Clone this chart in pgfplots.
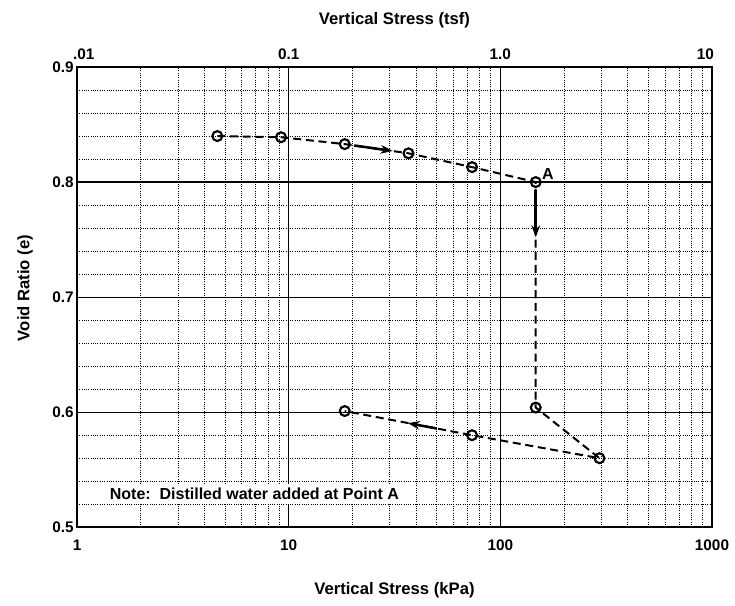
\documentclass[border=0pt]{standalone}
\usepackage{pgfplots}
\pgfplotsset{compat=1.18}
\usepackage{fontspec}
\setmainfont{Liberation Sans}
\usetikzlibrary{arrows.meta}

\begin{document}
\begin{tikzpicture}
% 1 px of the reference = 0.75pt
\begin{axis}[
    name=main,
    scale only axis,
    width=476pt, height=345pt,
    xmode=log, log basis x=10,
    xmin=1, xmax=1000,
    ymin=0.5, ymax=0.9,
    xtick={1,10,100,1000},
    xticklabels={1,10,100,1000},
    minor xtick={2,3,4,5,6,7,8,9,20,30,40,50,60,70,80,90,200,300,400,500,600,700,800,900},
    ytick={0.5,0.6,0.7,0.8,0.9},
    minor ytick={0.52,0.54,0.56,0.58,0.62,0.64,0.66,0.68,0.72,0.74,0.76,0.78,0.82,0.84,0.86,0.88},
    yticklabel style={/pgf/number format/fixed,/pgf/number format/precision=1,
        /pgf/number format/fixed zerofill, font=\fontsize{11.5}{13}\selectfont\bfseries, xshift=1pt},
    xticklabel style={font=\fontsize{11.5}{13}\selectfont\bfseries, yshift=-6pt},
    /pgf/number format/assume math mode=true,
    grid=both,
    major grid style={black, line width=0.9pt},
    minor grid style={black, line width=0.7pt, densely dotted},
    tick style={draw=none},
    axis line style={line width=1.3pt},
    xlabel={Vertical Stress (kPa)},
    ylabel={Void Ratio (e)},
    label style={font=\fontsize{12.5}{14}\selectfont\bfseries},
    xlabel style={at={(rel axis cs:0.5,-0.136)}, anchor=center},
    ylabel style={at={(rel axis cs:-0.082,0.52)}, anchor=center},
    clip=false,
]
\addplot[black, line width=1.5pt, dash pattern=on 6pt off 3.5pt,
    mark=o, mark size=3.7pt, mark options={solid, line width=1.6pt}]
coordinates {
    (4.6,0.840) (9.2,0.839) (18.4,0.833) (36.8,0.825) (73.5,0.813) (147,0.800)
    (147,0.604) (294,0.560) (73.5,0.580) (18.4,0.601)
};
\draw[black, line width=1.9pt, -{Stealth[length=9pt,width=6.5pt]}]
    (axis cs:20.4,0.8318) -- (axis cs:31.0,0.8270);
\draw[black, line width=1.9pt, -{Stealth[length=9pt,width=6.5pt]}]
    (axis cs:147,0.793) -- (axis cs:147,0.752);
\draw[black, line width=1.9pt, -{Stealth[length=9pt,width=6.5pt]}]
    (axis cs:50.1,0.5858) -- (axis cs:36.6,0.5905);
\node[anchor=south west, font=\fontsize{12}{14}\selectfont\bfseries, inner sep=0pt]
    at (axis cs:157,0.802) {A};
\node[anchor=west, fill=white, inner sep=3pt, font=\fontsize{12}{14}\selectfont\bfseries]
    at (rel axis cs:0.045,0.072) {Note:\ \ Distilled water added at Point A};
\coordinate (sw) at (rel axis cs:0,0);
\coordinate (ne) at (rel axis cs:1,1);
\end{axis}
\begin{axis}[
    scale only axis,
    width=476pt, height=345pt,
    xmode=log,
    xmin=1, xmax=1000,
    ymin=0.5, ymax=0.9,
    axis x line*=top,
    hide y axis,
    xtick={1,10,100,1000},
    xticklabels={\hspace*{10pt}.01,0.1,1.0,10\hspace*{10pt}},
    tick style={draw=none},
    minor tick style={draw=none},
    axis line style={line width=1.3pt},
    xticklabel style={font=\fontsize{11.5}{13}\selectfont\bfseries, yshift=2pt},
    xlabel={Vertical Stress (tsf)},
    xlabel style={at={(rel axis cs:0.5,1.102)}, anchor=center,
        font=\fontsize{12.5}{14}\selectfont\bfseries},
]
\end{axis}
\pgfresetboundingbox
\path (sw) ++(-57.75pt,-58.5pt) rectangle ([shift={(17.25pt,50.25pt)}]ne);
\end{tikzpicture}
\end{document}
